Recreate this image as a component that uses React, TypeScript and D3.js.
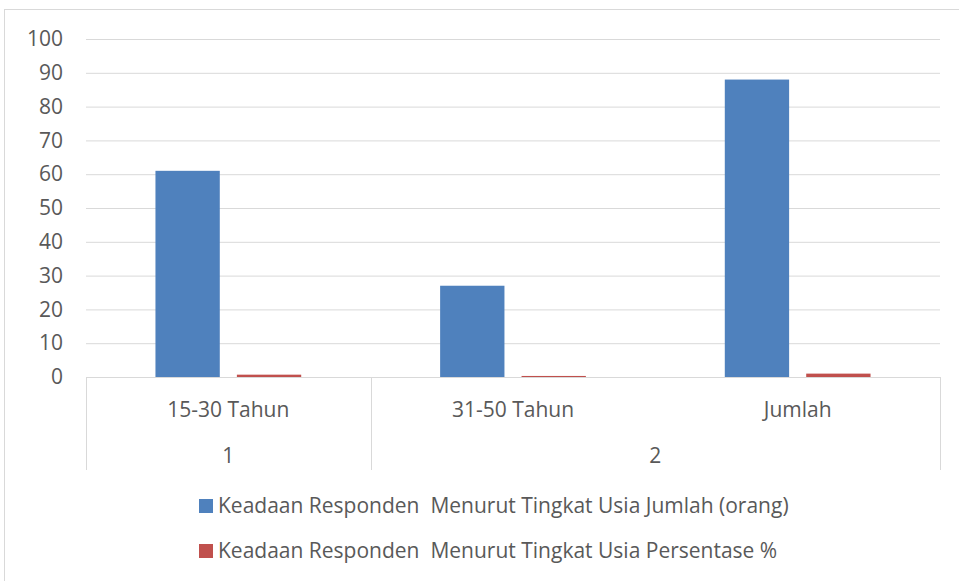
import * as d3 from "d3";
import React, { useEffect, useRef } from "react";

const categories = ["15-30 Tahun", "31-50 Tahun", "Jumlah"];
const groups = [
  { label: "1", span: 1 },
  { label: "2", span: 2 },
];
const jumlah = [61, 27, 88];
const persentase = [0.69, 0.31, 1];
const seriesNames = [
  "Keadaan Responden  Menurut Tingkat Usia Jumlah (orang)",
  "Keadaan Responden  Menurut Tingkat Usia Persentase %",
];
const yTicks = [0, 10, 20, 30, 40, 50, 60, 70, 80, 90, 100];

const width = 959;
const height = 581;
const colors = ["#4f81bd", "#c0504d"];
const textColor = "#595959";
const gridColor = "#d9d9d9";
const font = "'Open Sans', sans-serif";
const fontSize = "21px";

export default function App() {
  const ref = useRef<SVGSVGElement>(null);

  useEffect(() => {
    const svg = d3.select(ref.current);
    svg.selectAll("*").remove();

    const margin = { top: 39, right: 19, bottom: 204, left: 86 };

    // cadre du graphique
    svg
      .append("rect")
      .attr("x", 4.5)
      .attr("y", 9.5)
      .attr("width", width + 10)
      .attr("height", height + 10)
      .attr("fill", "white")
      .attr("stroke", gridColor);

    const x = d3
      .scaleBand()
      .domain(categories)
      .range([margin.left, width - margin.right]);
    const inner = d3
      .scaleBand()
      .domain(["a", "b"])
      .range([x.bandwidth() * 0.244, x.bandwidth() * 0.756])
      .paddingInner(0.21);
    const y = d3
      .scaleLinear()
      .domain([0, 100])
      .range([height - margin.bottom, margin.top]);

    // grille et axe y
    const yAxis = svg
      .append("g")
      .attr("transform", `translate(${margin.left},0)`)
      .call(d3.axisLeft(y).tickValues(yTicks).tickSize(0).tickPadding(23))
      .call((g) => g.select(".domain").remove());
    yAxis
      .selectAll(".tick line")
      .attr("x2", width - margin.left - margin.right)
      .attr("stroke", gridColor);
    yAxis
      .selectAll(".tick text")
      .attr("fill", textColor)
      .style("font-family", font)
      .style("font-size", fontSize);

    // barres
    const series = [jumlah, persentase];
    series.forEach((vals, s) => {
      svg
        .append("g")
        .selectAll("rect")
        .data(categories)
        .join("rect")
        .attr("x", (d) => (x(d) as number) + (inner(s ? "b" : "a") as number))
        .attr("y", (d, i) => y(vals[i]))
        .attr("width", inner.bandwidth())
        .attr("height", (d, i) => y(0) - y(vals[i]))
        .attr("fill", colors[s]);
    });

    // axe x à deux niveaux
    const y0 = y(0);
    const bottomY = 470;
    svg
      .append("line")
      .attr("x1", margin.left)
      .attr("x2", width - margin.right)
      .attr("y1", y0 + 0.5)
      .attr("y2", y0 + 0.5)
      .attr("stroke", gridColor);

    const bounds: number[] = [margin.left];
    let idx = 0;
    groups.forEach((g) => {
      idx += g.span;
      bounds.push(idx < categories.length ? (x(categories[idx]) as number) : width - margin.right);
    });
    svg
      .append("g")
      .selectAll("line")
      .data(bounds)
      .join("line")
      .attr("x1", (d) => Math.round(d) + 0.5)
      .attr("x2", (d) => Math.round(d) + 0.5)
      .attr("y1", y0)
      .attr("y2", bottomY)
      .attr("stroke", gridColor);

    svg
      .append("g")
      .selectAll("text")
      .data(categories)
      .join("text")
      .attr("x", (d) => (x(d) as number) + x.bandwidth() / 2)
      .attr("y", y0 + 40)
      .attr("text-anchor", "middle")
      .attr("fill", textColor)
      .style("font-family", font)
      .style("font-size", fontSize)
      .text((d) => d);

    svg
      .append("g")
      .selectAll("text")
      .data(groups)
      .join("text")
      .attr("x", (d, i) => (bounds[i] + bounds[i + 1]) / 2)
      .attr("y", y0 + 86)
      .attr("text-anchor", "middle")
      .attr("fill", textColor)
      .style("font-family", font)
      .style("font-size", fontSize)
      .text((d) => d.label);

    // légende
    const legend = svg
      .append("g")
      .selectAll("g")
      .data(seriesNames)
      .join("g")
      .attr("transform", (d, i) => `translate(199,${499 + i * 45})`);
    legend
      .append("rect")
      .attr("width", 14)
      .attr("height", 14)
      .attr("fill", (d, i) => colors[i]);
    legend
      .append("text")
      .attr("x", 19)
      .attr("y", 14)
      .attr("fill", textColor)
      .style("font-family", font)
      .style("font-size", fontSize)
      .style("white-space", "pre")
      .text((d) => d);
  }, []);

  return (
    <svg
      ref={ref}
      width={width}
      height={height}
      style={{ position: "absolute", left: 0, top: 0 }}
    ></svg>
  );
}
